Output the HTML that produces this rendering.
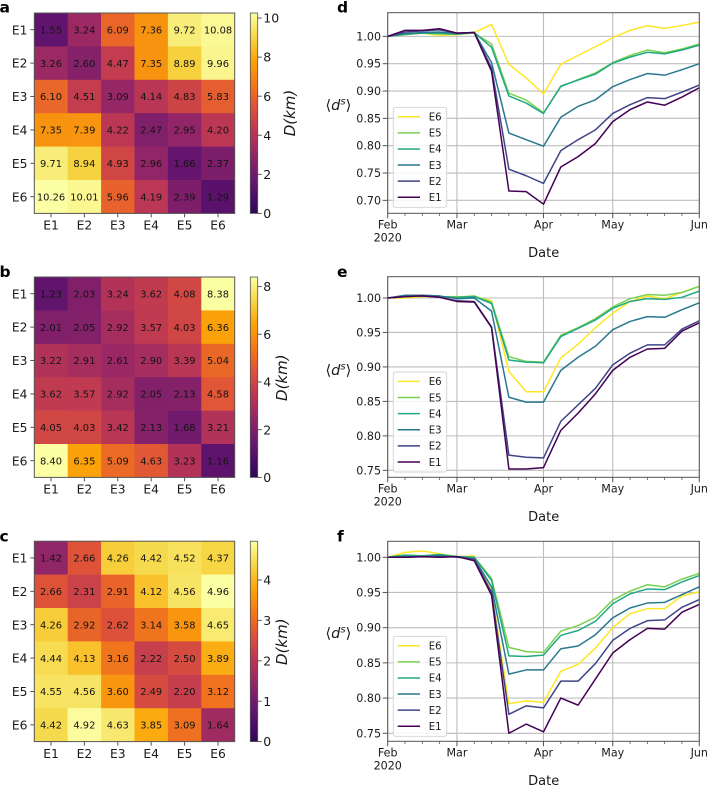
<!DOCTYPE html>
<html lang="en">
<head>
<meta charset="utf-8">
<title>Heatmaps and mobility time series</title>
<style>
html,body{margin:0;padding:0;background:#fff;width:708px;height:786px;overflow:hidden}
svg{display:block;filter:blur(0.3px)}
text{font-family:"DejaVu Sans","Liberation Sans",sans-serif;fill:#1a1a1a}
</style>
</head>
<body>
<svg id="figure" xmlns="http://www.w3.org/2000/svg" width="708" height="786" viewBox="0 0 708 786"></svg>
<script>
// ---- shared categories ----
const zones = ['E1','E2','E3','E4','E5','E6'];
const monthLabels = ['Feb','Mar','Apr','May','Jun'];
const monthWeeks = [0,4,9,13,18];
const weekCount = 18;

// ---- heatmap values ----
const matrixA = [
 [1.55,3.24,6.09,7.36,9.72,10.08],
 [3.26,2.60,4.47,7.35,8.89,9.96],
 [6.10,4.51,3.09,4.14,4.83,5.83],
 [7.35,7.39,4.22,2.47,2.95,4.20],
 [9.71,8.94,4.93,2.96,1.66,2.37],
 [10.26,10.01,5.96,4.19,2.39,1.29]];
const matrixB = [
 [1.23,2.03,3.24,3.62,4.08,8.38],
 [2.01,2.05,2.92,3.57,4.03,6.36],
 [3.22,2.91,2.61,2.90,3.39,5.04],
 [3.62,3.57,2.92,2.05,2.13,4.58],
 [4.05,4.03,3.42,2.13,1.68,3.21],
 [8.40,6.35,5.09,4.63,3.23,1.16]];
const matrixC = [
 [1.42,2.66,4.26,4.42,4.52,4.37],
 [2.66,2.31,2.91,4.12,4.56,4.96],
 [4.26,2.92,2.62,3.14,3.58,4.65],
 [4.44,4.13,3.16,2.22,2.50,3.89],
 [4.55,4.56,3.60,2.49,2.20,3.12],
 [4.42,4.92,4.63,3.85,3.09,1.64]];
const colorbarTicksA = [0,2,4,6,8,10];
const colorbarTicksB = [0,2,4,6,8];
const colorbarTicksC = [0,1,2,3,4];

// ---- line series: panel d ----
const dE6 = [1.000,1.004,1.006,1.002,1.003,1.007,1.022,0.949,0.924,0.8945,0.949,0.965,0.981,0.9975,1.011,1.0195,1.0146,1.020,1.026];
const dE5 = [1.000,1.003,1.006,1.006,1.004,1.006,0.986,0.896,0.8835,0.860,0.908,0.921,0.933,0.952,0.965,0.975,0.970,0.977,0.986];
const dE4 = [1.000,1.004,1.006,1.005,1.004,1.007,0.980,0.891,0.878,0.859,0.909,0.920,0.931,0.951,0.962,0.971,0.968,0.975,0.984];
const dE3 = [1.000,1.005,1.007,1.008,1.005,1.007,0.952,0.823,0.811,0.799,0.852,0.872,0.884,0.908,0.921,0.932,0.929,0.939,0.950];
const dE2 = [1.000,1.008,1.010,1.012,1.006,1.007,0.942,0.757,0.745,0.731,0.791,0.811,0.829,0.859,0.875,0.888,0.886,0.898,0.911];
const dE1 = [1.000,1.011,1.011,1.014,1.006,1.007,0.936,0.717,0.716,0.693,0.761,0.780,0.804,0.844,0.866,0.880,0.874,0.889,0.906];
// ---- line series: panel e ----
const eE6 = [1.000,1.000,1.002,1.002,1.002,1.002,0.996,0.8936,0.864,0.864,0.913,0.933,0.957,0.978,0.995,1.003,0.999,1.008,1.017];
const eE5 = [1.000,1.002,1.003,1.002,1.001,1.003,0.994,0.915,0.908,0.907,0.946,0.957,0.970,0.987,0.999,1.005,1.004,1.008,1.017];
const eE4 = [1.000,1.002,1.003,1.002,1.001,1.002,0.992,0.910,0.907,0.906,0.944,0.956,0.968,0.985,0.995,0.999,0.998,1.001,1.010];
const eE3 = [1.000,1.004,1.004,1.003,0.999,1.000,0.981,0.856,0.849,0.849,0.895,0.914,0.930,0.954,0.966,0.973,0.972,0.983,0.993];
const eE2 = [1.000,1.002,1.003,1.001,0.996,0.995,0.958,0.772,0.769,0.768,0.821,0.845,0.869,0.903,0.920,0.932,0.932,0.955,0.967];
const eE1 = [1.000,1.002,1.003,1.001,0.995,0.994,0.957,0.752,0.752,0.754,0.808,0.833,0.861,0.895,0.914,0.926,0.927,0.952,0.964];
// ---- line series: panel f ----
const fE6 = [1.000,1.007,1.009,1.005,1.001,1.002,0.952,0.792,0.796,0.794,0.838,0.848,0.871,0.900,0.920,0.927,0.927,0.945,0.951];
const fE5 = [1.000,1.003,1.002,1.004,1.001,1.000,0.970,0.872,0.866,0.865,0.895,0.903,0.915,0.939,0.952,0.961,0.958,0.969,0.977];
const fE4 = [1.000,1.003,1.002,1.004,1.001,1.000,0.967,0.860,0.859,0.861,0.889,0.896,0.909,0.934,0.948,0.955,0.954,0.965,0.974];
const fE3 = [1.000,1.001,1.001,1.002,1.000,0.998,0.958,0.834,0.840,0.840,0.870,0.874,0.890,0.914,0.928,0.935,0.936,0.947,0.958];
const fE2 = [1.000,1.000,1.001,1.001,1.001,0.997,0.950,0.777,0.789,0.786,0.824,0.824,0.849,0.882,0.899,0.910,0.911,0.929,0.940];
const fE1 = [1.000,1.000,1.001,1.000,1.001,0.995,0.946,0.750,0.763,0.752,0.800,0.790,0.827,0.864,0.883,0.899,0.898,0.922,0.933];
const yTicksD = [0.70,0.75,0.80,0.85,0.90,0.95,1.00];
const yTicksEF = [0.75,0.80,0.85,0.90,0.95,1.00];

// ---- styling ----
const NS = 'http://www.w3.org/2000/svg';
const root = document.getElementById('figure');
const inferno = ['#000004','#160b39','#420a68','#6a176e','#932667','#bc3754','#dd513a','#f37819','#fca50a','#f6d746','#fcffa4'];
const zoneColors = {E1:'#440154',E2:'#414487',E3:'#2a788e',E4:'#22a884',E5:'#7ad151',E6:'#fde725'};
const axisColor = '#555';
const CMAP_START = 0.15;

function hexToRgb(h){return [1,3,5].map(i=>parseInt(h.substr(i,2),16));}
function cmap(t){
  t = Math.max(0,Math.min(1,t));
  const u = (CMAP_START+(1-CMAP_START)*t)*(inferno.length-1);
  const i = Math.min(Math.floor(u),inferno.length-2), f = u-i;
  const a = hexToRgb(inferno[i]), b = hexToRgb(inferno[i+1]);
  return 'rgb('+a.map((v,k)=>Math.round(v+(b[k]-v)*f)).join(',')+')';
}
function el(tag, attrs, parent, txt){
  const e = document.createElementNS(NS,tag);
  for(const k in attrs) e.setAttribute(k,attrs[k]);
  if(txt!==undefined) e.textContent = txt;
  (parent||root).appendChild(e);
  return e;
}
function named(e,name){
  
  
  return e;
}

// ---- heatmap panel ----
function drawHeatmap(cfg){
  const g = named(el('g',{}),'heatmap-'+cfg.letter);
  const x0=34.3, y0=cfg.top, size=200.4, cell=size/zones.length;
  const vmax = Math.max(...cfg.matrix.flat());
  const sx = i => x0+i*cell, sy = j => y0+j*cell;
  cfg.matrix.forEach((row,j)=>row.forEach((v,i)=>{
    const r = el('rect',{x:sx(i),y:sy(j),width:cell+0.3,height:cell+0.3,fill:cmap(v/vmax)},g);
    named(r,'cell-'+zones[j]+'-'+zones[i]);
  }));
  cfg.matrix.forEach((row,j)=>row.forEach((v,i)=>{
    const t = el('text',{x:sx(i)+cell/2,y:sy(j)+cell/2+3.7,'text-anchor':'middle','font-size':'9.9',style:'fill:#141414'},g,v.toFixed(2));
    named(t,'cell-value-'+zones[j]+'-'+zones[i]);
  }));
  named(el('rect',{x:x0,y:y0,width:size,height:size,fill:'none',stroke:axisColor,'stroke-width':1},g),'heatmap-frame');
  zones.forEach((z,i)=>{
    const cx = sx(i)+cell/2, cy = sy(i)+cell/2;
    named(el('line',{x1:cx,x2:cx,y1:y0+size,y2:y0+size+4,stroke:axisColor,'stroke-width':1},g),'x-tick');
    named(el('line',{x1:x0-4,x2:x0,y1:cy,y2:cy,stroke:axisColor,'stroke-width':1},g),'y-tick');
    named(el('text',{x:cx,y:y0+size+16.3,'text-anchor':'middle','font-size':'12.3'},g,z),'x-tick-label');
    named(el('text',{x:27.5,y:cy+4.6,'text-anchor':'end','font-size':'12.3'},g,z),'y-tick-label');
  });
  // colorbar
  const gradId = 'cbar-'+cfg.letter;
  const defs = el('defs',{},g);
  const grad = el('linearGradient',{id:gradId,x1:0,x2:0,y1:1,y2:0},defs);
  for(let k=0;k<=40;k++){ el('stop',{offset:k/40,'stop-color':cmap(k/40)},grad); }
  const cbx=250.3, cbw=7.4, cbs = v => y0+size-v/vmax*size;
  named(el('rect',{x:cbx,y:y0,width:cbw,height:size,fill:'url(#'+gradId+')',stroke:axisColor,'stroke-width':0.8},g),'colorbar');
  cfg.ticks.forEach(v=>{
    const y = cbs(v);
    named(el('line',{x1:cbx+cbw,x2:cbx+cbw+4,y1:y,y2:y,stroke:axisColor,'stroke-width':1},g),'colorbar-tick');
    named(el('text',{x:cbx+cbw+5.6,y:y+4.6,'font-size':'12.5'},g,String(v)),'colorbar-tick-label');
  });
  const lab = el('text',{transform:'translate('+(cfg.labelX+5)+','+cfg.labelY+') rotate(-90)','text-anchor':'middle','font-size':'15','font-style':'italic'},g,'D(km)');
  named(lab,'colorbar-title');
  named(el('text',{x:-0.5,y:cfg.letterY,'font-size':'15.5','font-weight':'bold',style:'fill:#000'},g,cfg.letter),'panel-label-'+cfg.letter);
}

// ---- line panel ----
function drawLines(cfg){
  const g = named(el('g',{}),'line-chart-'+cfg.letter);
  const L=387.7,R=699.3,T=cfg.top,B=cfg.bottom;
  const sx = w => L+(R-L)*w/weekCount;
  const sy = v => T+(B-T)*(cfg.ymax-v)/(cfg.ymax-cfg.ymin);
  cfg.yticks.forEach(v=>{
    named(el('line',{x1:L,x2:R,y1:sy(v),y2:sy(v),stroke:'#bdbdbd','stroke-width':1.1},g),'y-gridline');
  });
  monthWeeks.forEach(w=>{
    named(el('line',{x1:sx(w),x2:sx(w),y1:T,y2:B,stroke:'#bdbdbd','stroke-width':1.1},g),'x-gridline');
  });
  ['E6','E5','E4','E3','E2','E1'].forEach(z=>{
    const pts = cfg.series[z].map((v,w)=>sx(w).toFixed(2)+','+sy(v).toFixed(2)).join(' ');
    const pl = el('polyline',{points:pts,fill:'none',stroke:zoneColors[z],'stroke-width':1.5,'stroke-linejoin':'round'},g);
    named(pl,'series-'+z);
  });
  named(el('rect',{x:L,y:T,width:R-L,height:B-T,fill:'none',stroke:axisColor,'stroke-width':1},g),'plot-frame');
  for(let w=0;w<=weekCount;w++){
    const major = monthWeeks.indexOf(w)>=0;
    named(el('line',{x1:sx(w),x2:sx(w),y1:B,y2:B+(major?5:2.8),stroke:axisColor,'stroke-width':major?1:0.8},g),major?'x-major-tick':'x-minor-tick');
  }
  monthWeeks.forEach((w,i)=>{
    named(el('text',{x:sx(w),y:B+15.3,'text-anchor':'middle','font-size':'11.1'},g,monthLabels[i]),'x-tick-label');
  });
  named(el('text',{x:sx(0),y:B+28.3,'text-anchor':'middle','font-size':'11.1'},g,'2020'),'x-year-label');
  named(el('text',{x:543.7,y:B+43.6,'text-anchor':'middle','font-size':'13'},g,'Date'),'x-axis-title');
  cfg.yticks.forEach(v=>{
    named(el('line',{x1:L-5,x2:L,y1:sy(v),y2:sy(v),stroke:axisColor,'stroke-width':1},g),'y-tick');
    named(el('text',{x:381,y:sy(v)+4,'text-anchor':'end','font-size':'11.1'},g,v.toFixed(2)),'y-tick-label');
  });
  // legend
  const lg = named(el('g',{},g),'legend');
  const ly = cfg.legendTop;
  named(el('rect',{x:393.3,y:ly,width:53.4,height:100,rx:2,fill:'#fff','fill-opacity':0.85,stroke:'#d2d2d2','stroke-width':0.9},lg),'legend-frame');
  ['E6','E5','E4','E3','E2','E1'].forEach((z,i)=>{
    const y = ly+9.4+i*16.12;
    const entry = named(el('g',{},lg),'legend-entry-'+z);
    named(el('line',{x1:397.7,x2:420,y1:y,y2:y,stroke:zoneColors[z],'stroke-width':1.5},entry),'legend-swatch');
    named(el('text',{x:428.7,y:y+3.8,'font-size':'10.2'},entry,z),'legend-label');
  });
  // y label  <d^s>
  const yl = el('text',{x:325.5,y:cfg.labelY,'font-size':'14.5'},g);
  named(yl,'y-axis-title');
  el('tspan',{},yl,'\u27E8');
  el('tspan',{'font-style':'italic'},yl,'d');
  el('tspan',{'font-style':'italic','font-size':'10',dy:'-5.5'},yl,'s');
  el('tspan',{dy:'5.5'},yl,'\u27E9');
  named(el('text',{x:337,y:cfg.letterY,'font-size':'15.5','font-weight':'bold',style:'fill:#000'},g,cfg.letter),'panel-label-'+cfg.letter);
}

drawHeatmap({letter:'a',matrix:matrixA,top:13,ticks:colorbarTicksA,labelX:290,labelY:113,letterY:12.5});
drawHeatmap({letter:'b',matrix:matrixB,top:277,ticks:colorbarTicksB,labelX:282,labelY:377.7,letterY:277});
drawHeatmap({letter:'c',matrix:matrixC,top:541.2,ticks:colorbarTicksC,labelX:282,labelY:641.7,letterY:541.5});

drawLines({letter:'d',top:12.7,bottom:213.3,ymin:0.6763,ymax:1.0433,yticks:yTicksD,legendTop:107.3,labelY:110,letterY:12.5,
  series:{E1:dE1,E2:dE2,E3:dE3,E4:dE4,E5:dE5,E6:dE6}});
drawLines({letter:'e',top:276.7,bottom:477.3,ymin:0.7399,ymax:1.0309,yticks:yTicksEF,legendTop:372,labelY:375,letterY:277,
  series:{E1:eE1,E2:eE2,E3:eE3,E4:eE4,E5:eE5,E6:eE6}});
drawLines({letter:'f',top:541.3,bottom:741.3,ymin:0.7386,ymax:1.0227,yticks:yTicksEF,legendTop:636.3,labelY:638,letterY:541.5,
  series:{E1:fE1,E2:fE2,E3:fE3,E4:fE4,E5:fE5,E6:fE6}});
</script>
</body>
</html>
